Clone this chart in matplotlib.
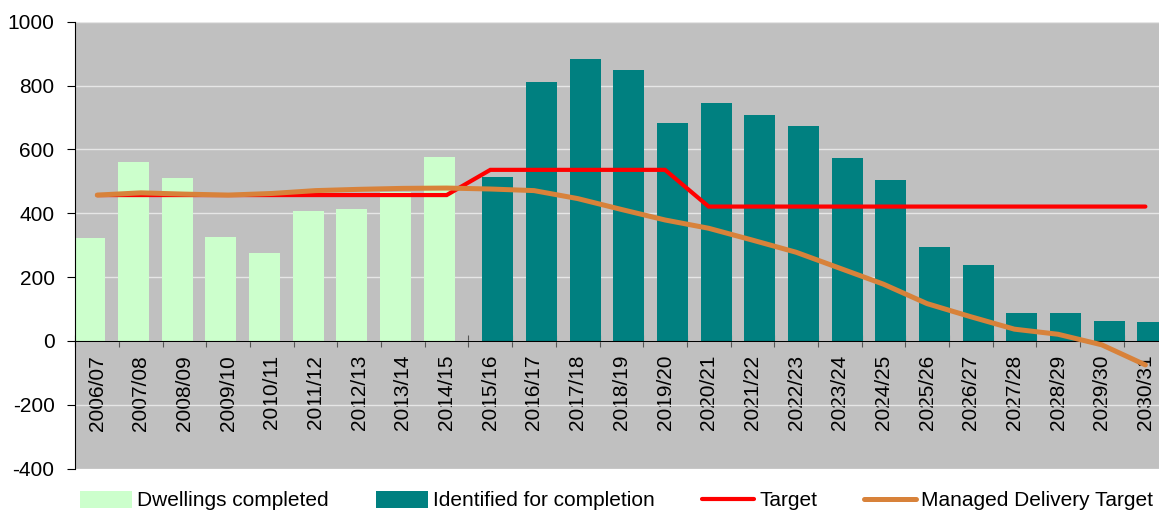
import numpy as np
import matplotlib
matplotlib.use('Agg')
import matplotlib.pyplot as plt

plt.rcParams['font.family'] = ['Liberation Sans', 'DejaVu Sans']
plt.rcParams['font.size'] = 15
plt.rcParams['axes.unicode_minus'] = False

years = ['2006/07', '2007/08', '2008/09', '2009/10', '2010/11', '2011/12',
         '2012/13', '2013/14', '2014/15', '2015/16', '2016/17', '2017/18',
         '2018/19', '2019/20', '2020/21', '2021/22', '2022/23', '2023/24',
         '2024/25', '2025/26', '2026/27', '2027/28', '2028/29', '2029/30',
         '2030/31']

# completions up to 2014/15, identified supply afterwards
completed = [322, 560, 509, 327, 275, 406, 412, 468, 577]
identified = [514, 810, 882, 850, 682, 745, 708, 674, 573, 503, 295, 238,
              87, 87, 62, 58]
target = [457, 457, 457, 457, 457, 457, 457, 457, 457, 536, 536, 536, 536,
          536, 421, 421, 421, 421, 421, 421, 421, 421, 421, 421, 421]
managed = [457, 464, 460, 457, 462, 471, 475, 478, 479, 476, 471, 446, 412,
           379, 353, 316, 278, 228, 178, 117, 76, 37, 21, -12, -75]

x = np.arange(len(years))
x_done = x[:len(completed)]
x_ident = x[len(completed):]

fig = plt.figure(figsize=(11.59, 5.12), dpi=100)
ax = fig.add_axes([0.0651, 0.0846, 0.942, 0.873])
ax.set_facecolor('#C0C0C0')

b1 = ax.bar(x_done - 0.17, completed, width=0.71, color='#CCFFCC',
            label='Dwellings completed', zorder=2)
b2 = ax.bar(x_ident + 0.17, identified, width=0.71, color='#008080',
            label='Identified for completion', zorder=2)
l1, = ax.plot(x, target, color='#FF0000', lw=3, label='Target', zorder=3,
              solid_capstyle='round', solid_joinstyle='miter')
l2, = ax.plot(x, managed, color='#D8823A', lw=3.6,
              label='Managed Delivery Target', zorder=4,
              solid_capstyle='round')

ax.set_xlim(-0.5, len(years) - 0.5)
ax.set_ylim(-400, 1000)
ax.set_yticks(range(-400, 1001, 200))
ax.yaxis.grid(True, color='#E6E6E6', lw=1)
ax.set_axisbelow(True)

# category axis sits on the zero line
ax.spines['bottom'].set_position(('data', 0))
ax.spines['top'].set_visible(False)
ax.spines['right'].set_visible(False)
ax.set_xticks(np.arange(len(years) + 1) - 0.5)
ax.set_xticklabels([])
ax.set_xticks(x, minor=True)
ax.set_xticklabels(years, minor=True, rotation=90)
ax.tick_params(axis='x', which='major', direction='inout', length=8,
               color='#555555')
ax.tick_params(axis='x', which='minor', length=0, pad=10)
ax.tick_params(axis='y', direction='out', length=6, pad=9)

fig.legend(handles=[b1, b2, l1, l2], loc='center',
           bbox_to_anchor=(0.532, 0.022), ncol=4, frameon=False,
           handlelength=2.5, handleheight=0.85, handletextpad=0.25,
           columnspacing=2.25)

fig.savefig('out.png', dpi=100)
